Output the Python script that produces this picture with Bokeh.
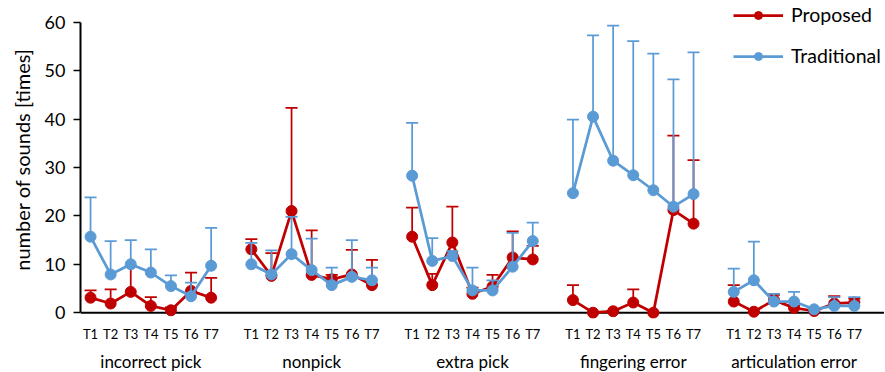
import numpy as np
from bokeh.plotting import figure
from bokeh.models import (LinearAxis, FixedTicker, Span, Legend, LegendItem, Range1d)
from bokeh.embed import file_html
from bokeh.resources import INLINE

# ---------------- data ----------------
groups = ["incorrect pick", "nonpick", "extra pick", "fingering error", "articulation error"]
trials = ["T1", "T2", "T3", "T4", "T5", "T6", "T7"]

proposed_mean = [3.1, 1.9, 4.3, 1.4, 0.5, 4.5, 3.1,
                 13.1, 7.6, 21.0, 7.8, 6.9, 7.9, 5.7,
                 15.7, 5.7, 14.5, 3.9, 5.4, 11.4, 11.0,
                 2.6, 0.0, 0.3, 2.1, 0.0, 21.2, 18.4,
                 2.3, 0.2, 2.6, 1.0, 0.35, 1.9, 2.1]
proposed_sd = [1.5, 2.9, 5.2, 1.8, 0.6, 3.8, 4.1,
               2.1, 4.7, 21.3, 9.2, 0.9, 5.1, 5.2,
               6.0, 2.3, 7.4, 1.3, 2.4, 5.4, 2.8,
               3.1, 0.0, 0.0, 2.7, 0.0, 15.4, 13.1,
               3.4, 0.0, 1.1, 0.5, 0.0, 1.5, 0.8]

traditional_mean = [15.7, 7.9, 10.0, 8.3, 5.5, 3.4, 9.7,
                    10.0, 7.9, 12.1, 8.8, 5.7, 7.4, 6.7,
                    28.3, 10.7, 11.7, 4.6, 4.6, 9.5, 14.8,
                    24.7, 40.5, 31.4, 28.4, 25.3, 21.9, 24.5,
                    4.3, 6.7, 2.3, 2.3, 0.7, 1.4, 1.4]
traditional_sd = [8.1, 6.9, 5.0, 4.8, 2.2, 2.8, 7.8,
                  4.4, 5.0, 7.7, 6.5, 3.6, 7.6, 2.6,
                  10.9, 4.7, 1.0, 4.7, 2.1, 7.0, 3.8,
                  15.2, 16.8, 27.9, 27.7, 28.2, 26.3, 29.3,
                  4.8, 8.0, 1.6, 2.0, 0.2, 1.8, 1.8]

y_ticks = [0, 10, 20, 30, 40, 50, 60]

# ---------------- style ----------------
FONT = "Lato"
RED = "#C00000"
BLUE = "#5B9BD5"
TXT = "#000000"

n_t = len(trials)
step = n_t + 1
xpos = np.array([g * step + i for g in range(len(groups)) for i in range(n_t)], dtype=float)
n_pos = len(groups) * step

p = figure(frame_width=804, frame_height=318,
           x_range=Range1d(-0.5, n_pos - 0.5), y_range=Range1d(-1.2, 64.5),
           output_backend="svg", toolbar_location=None,
           x_axis_location=None,
           min_border_left=80, min_border_top=0, min_border_right=0, min_border_bottom=0)
p.grid.visible = False
p.outline_line_color = None
p.background_fill_color = "white"
p.border_fill_color = "white"

# y axis
ya = p.yaxis[0]
ya.ticker = FixedTicker(ticks=y_ticks)
ya.bounds = (0, 60)
ya.axis_line_color = "black"
ya.axis_line_width = 2
ya.major_tick_out = 7
ya.major_tick_in = 0
ya.major_tick_line_width = 1.5
ya.minor_tick_line_color = None
ya.major_label_standoff = 8
ya.major_label_text_font = FONT
ya.major_label_text_font_size = "18px"
ya.major_label_text_color = TXT
ya.axis_label = "number of sounds [times]"
ya.axis_label_text_font = FONT
ya.axis_label_text_font_size = "20px"
ya.axis_label_text_font_style = "normal"
ya.axis_label_text_color = TXT
ya.axis_label_standoff = 8

# x baseline at 0
p.add_layout(Span(location=0, dimension="width", line_color="black", line_width=2, level="underlay"))

# trial labels axis
xa1 = LinearAxis(ticker=FixedTicker(ticks=[int(v) for v in xpos]),
                 major_label_overrides={int(v): trials[i % n_t] for i, v in enumerate(xpos)})
xa1.axis_line_color = None
xa1.major_tick_line_color = None
xa1.minor_tick_line_color = None
xa1.major_label_standoff = 1
xa1.major_label_text_font = FONT
xa1.major_label_text_font_size = "13px"
xa1.major_label_text_color = TXT
p.add_layout(xa1, "below")

# group labels axis
centers = [g * step + (n_t - 1) // 2 for g in range(len(groups))]
xa2 = LinearAxis(ticker=FixedTicker(ticks=centers),
                 major_label_overrides={c: groups[g] for g, c in enumerate(centers)})
xa2.axis_line_color = None
xa2.major_tick_line_color = None
xa2.minor_tick_line_color = None
xa2.major_label_standoff = 0
xa2.major_label_text_font = FONT
xa2.major_label_text_font_size = "17px"
xa2.major_label_text_color = TXT
p.add_layout(xa2, "below")


def series(mean, sd, color):
    mean = np.array(mean, dtype=float)
    sd = np.array(sd, dtype=float)
    top = mean + sd
    # error bars (upper only)
    p.segment(x0=xpos, y0=mean, x1=xpos, y1=top, line_color=color, line_width=1.75)
    p.segment(x0=xpos - 0.3, y0=top, x1=xpos + 0.3, y1=top, line_color=color, line_width=1.75)
    # lines broken between groups
    lx, ly = [], []
    for g in range(len(groups)):
        sl = slice(g * n_t, (g + 1) * n_t)
        lx += list(xpos[sl]) + [np.nan]
        ly += list(mean[sl]) + [np.nan]
    ln = p.line(lx, ly, line_color=color, line_width=2.75)
    sc = p.scatter(xpos, mean, marker="circle", size=11, fill_color=color, line_color=color)
    return [ln, sc]


r_prop = series(proposed_mean, proposed_sd, RED)
r_trad = series(traditional_mean, traditional_sd, BLUE)

legend = Legend(items=[LegendItem(label="Proposed", renderers=r_prop),
                       LegendItem(label="Traditional", renderers=r_trad)],
                location=(653, 251), orientation="vertical",
                padding=0, margin=0, spacing=18,
                glyph_width=50, glyph_height=20, label_height=20,
                label_standoff=8,
                label_text_font=FONT, label_text_font_size="19.5px", label_text_color=TXT,
                border_line_color=None, background_fill_alpha=0)
p.add_layout(legend, "center")

open("out.html", "w").write(file_html(p, INLINE))
